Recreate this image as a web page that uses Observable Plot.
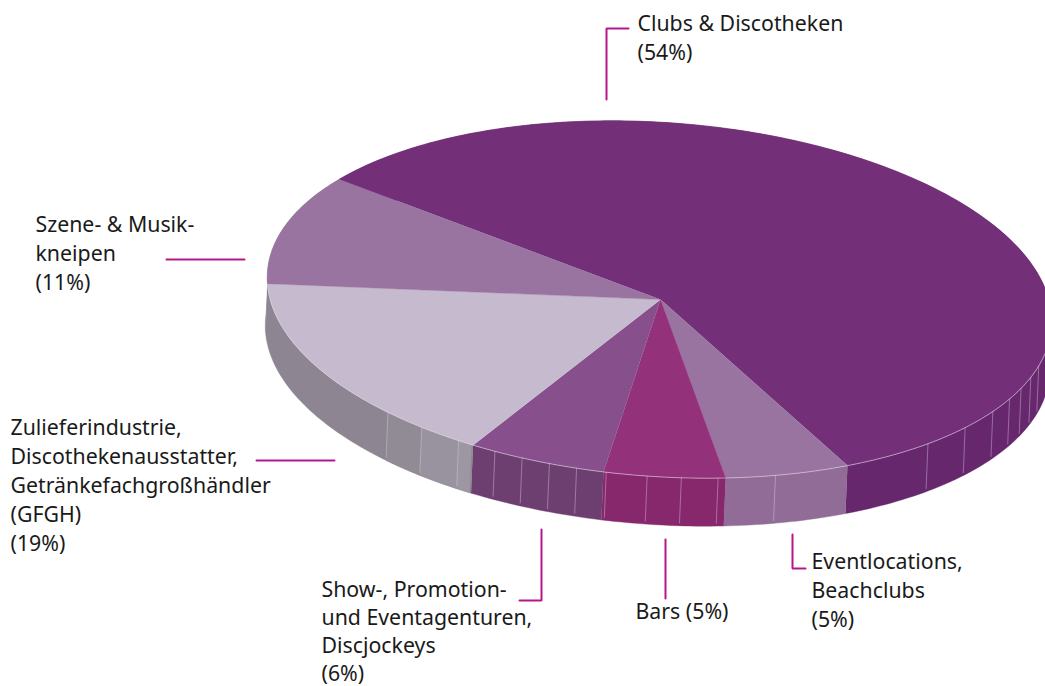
<!DOCTYPE html>
<html><head><meta charset="utf-8">
<script src="https://cdn.jsdelivr.net/npm/d3@7"></script>
<script src="https://cdn.jsdelivr.net/npm/@observablehq/plot@0.6"></script>
<style>html,body{margin:0;padding:0;background:#fff}svg{display:block}</style>
</head><body><div id="chart"></div>
<script>
// Data
const categories = ["Clubs & Discotheken","Eventlocations, Beachclubs","Bars","Show-, Promotion- und Eventagenturen, Discjockeys","Zulieferindustrie, Discothekenausstatter, Getränkefachgroßhändler (GFGH)","Szene- & Musikkneipen"];
const shares = [54,5,5,6,19,11];
const topColors = ["#733079","#9a74a0","#94317b","#87508c","#c6bace","#9a74a0"];
const wallColors = ["#66276d","#916c97","#87286c","#6d3f70","#8d8591","#8d8591"];
// Label text, one row per printed line
const labelLines = [
  ["Clubs & Discotheken","(54%)"],
  ["Eventlocations,","Beachclubs","(5%)"],
  ["Bars (5%)"],
  ["Show-, Promotion-","und Eventagenturen,","Discjockeys","(6%)"],
  ["Zulieferindustrie,","Discothekenausstatter,","Getränkefachgroßhändler","(GFGH)","(19%)"],
  ["Szene- & Musik-","kneipen","(11%)"]
];
// Layout (not data)
const labelAnchors = [[637,24],[811,562],[635,612],[321,590],[10,428],[35,225]];
const labelStep = [29,29,29,27.8,29,29];
const leaders = [
  [[628,28],[606,28],[606,99]],
  [[805,568],[792,568],[792,534]],
  [[665,539],[665,598]],
  [[519,600],[541,600],[541,529]],
  [[256,460],[334,460]],
  [[166,259],[244,259]]
];
const seamAngles = [132,125.5,119,113,108.7,104.5,100.4,96,90,85,79.6,71,45,37,30,25,21,17,13];
const greyFacets = [[125.5,132,"#918b96"],[119,125.5,"#98939e"],[116.8,119,"#9c97a2"]];
const pie = {cx:659, cy:299, ax:660, ay:299, a:393, b:177, tilt:4*Math.PI/180, depth:48, lean:2, start:209};

const rad = d => d*Math.PI/180;
const rim = (t,dz=0) => {
  const c=Math.cos(rad(t)), s=Math.sin(rad(t));
  return [pie.cx+pie.a*c*Math.cos(pie.tilt)-pie.b*s*Math.sin(pie.tilt)-pie.lean*dz/pie.depth,
          pie.cy+pie.a*c*Math.sin(pie.tilt)+pie.b*s*Math.cos(pie.tilt)+dz];
};
// perspective warp of the pie's angle
const warp = th => th+9.9+6.2*Math.cos(rad(th-62))+1.2*Math.cos(rad(2*(th-79)));
const total = d3.sum(shares);
let acc = pie.start;
const slices = shares.map((v,i)=>{const th0=acc; acc+=v/total*360; return {i,t0:warp(th0),t1:warp(acc)};});
const arc = (t0,t1)=>{const n=Math.max(2,Math.ceil(Math.abs(t1-t0)));return d3.range(n+1).map(k=>t0+(t1-t0)*k/n);};

const polys=[];
const addPoly=(id,color,pts)=>pts.forEach(p=>polys.push({id,color,x:p[0],y:p[1]}));
slices.forEach(s=>{
  const ts=arc(s.t0,s.t1);
  addPoly("w"+s.i,wallColors[s.i],[...ts.map(t=>rim(t)),...ts.slice().reverse().map(t=>rim(t,pie.depth))]);
});
greyFacets.forEach((f,k)=>{
  const ts=arc(f[0],f[1]);
  addPoly("g"+k,f[2],[...ts.map(t=>rim(t)),...ts.slice().reverse().map(t=>rim(t,pie.depth))]);
});
slices.forEach(s=>{
  addPoly("t"+s.i,topColors[s.i],[[pie.ax,pie.ay],...arc(s.t0,s.t1).map(t=>rim(t))]);
});
const rimLine=arc(5,176).map(t=>{const p=rim(t);return {x:p[0],y:p[1]};});
const seams=seamAngles.flatMap((t,i)=>[{i,x:rim(t)[0],y:rim(t)[1]},{i,x:rim(t,pie.depth-3)[0],y:rim(t,pie.depth-3)[1]}]);
const leaderRows=leaders.flatMap((l,i)=>l.map(p=>({i,x:p[0],y:p[1]})));
const textRows=labelLines.flatMap((ls,i)=>ls.map((text,k)=>({text,x:labelAnchors[i][0],y:labelAnchors[i][1]+k*labelStep[i]})));

const chart=Plot.plot({
  width:1045,height:686,margin:0,
  x:{domain:[0,1045],range:[0,1045],axis:null},
  y:{domain:[0,686],range:[0,686],axis:null},
  marks:[
    Plot.line(polys,{x:"x",y:"y",z:"id",fill:"color",stroke:"color",strokeWidth:0.4}),
    Plot.line(rimLine,{x:"x",y:"y",stroke:"#e2d8e6",strokeWidth:0.8,strokeOpacity:0.75}),
    Plot.line(seams,{x:"x",y:"y",z:"i",stroke:"#e2d8e6",strokeWidth:1,strokeOpacity:0.4}),
    Plot.line(leaderRows,{x:"x",y:"y",z:"i",stroke:"#b5178b",strokeWidth:2,strokeLinejoin:"miter",curve:"linear"}),
    Plot.text(textRows,{x:"x",y:"y",text:"text",textAnchor:"start",lineAnchor:"middle",fontSize:21.3,fontFamily:"'Noto Sans',sans-serif",fill:"#1a1a1a"})
  ]
});
document.getElementById("chart").append(chart);
</script></body></html>
